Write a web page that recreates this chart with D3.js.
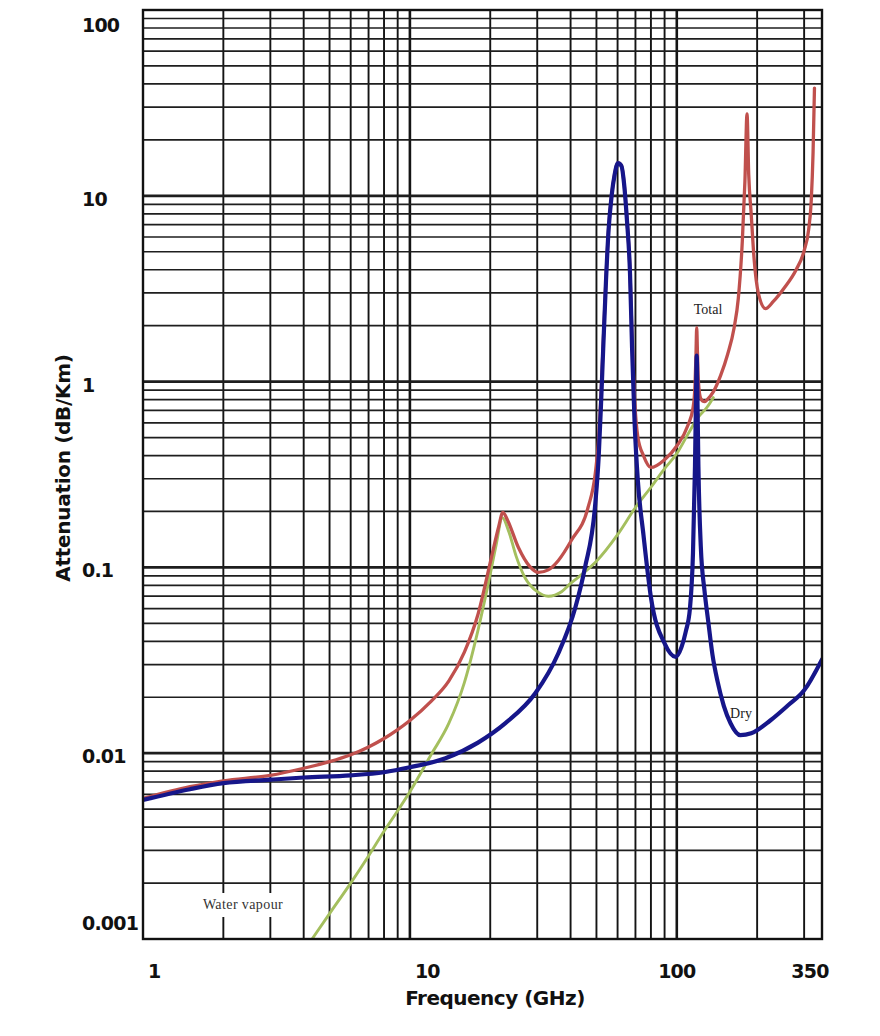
<!DOCTYPE html>
<html><head><meta charset="utf-8">
<script src="https://cdn.jsdelivr.net/npm/d3@7"></script>
<style>body{margin:0;background:#fff}svg{display:block}</style>
</head><body><svg id="chart" width="880" height="1036"></svg>
<script>
// ---------- data ----------
const xTickValues = [1, 10, 100, 350];
const xTickLabels = ["1", "10", "100", "350"];
const yTickValues = [0.001, 0.01, 0.1, 1, 10, 100];
const yTickLabels = ["0.001", "0.01", "0.1", "1", "10", "100"];

const totalFreq = [1,1.5,2,3,4,5,6,7,8,9,10,12,14,16,18,20.2,21.5,22.3,23.2,25.5,28,30.3,33,36,40.3,46.5,49.5,51,52,53,54.3,55.5,57,58.5,60.2,62,63.5,65,66.8,68,69.5,71.5,75,80,90,100,110,115,117,118,118.75,119.5,120.5,123,127,130,137,146,155,164,170,176,180,183.3,186,190,195,202,215,230,253,280,300,312,319,324,328];
const totalAtt  = [0.0057,0.0066,0.0071,0.0076,0.0083,0.009,0.0098,0.0108,0.012,0.0134,0.015,0.019,0.0245,0.035,0.056,0.113,0.165,0.198,0.18,0.128,0.102,0.094,0.097,0.109,0.14,0.21,0.32,0.5,0.85,1.6,3.6,6.6,10.1,13.1,15.1,14.6,11.6,7.6,3.9,1.7,0.8,0.5,0.4,0.345,0.38,0.45,0.58,0.72,0.95,1.4,1.95,1.45,1.0,0.81,0.78,0.8,0.88,1.08,1.4,1.95,2.8,5.7,12,27.6,13,8,4.5,3.0,2.47,2.7,3.2,4.0,5.06,6.6,9.4,17,38];

const dryFreq = [1,1.5,2,3,4,6,8,10,13.6,18,22.8,29.5,36,41.7,45.3,49.5,51,52,53,54.3,55.5,57,58.5,60.2,62,63.5,65,66.8,68,69.5,71.5,75,80,90,99,104,108,112,115,117,118,118.75,119.5,120.5,123,127,131,136,142,150,159,173,190,224,260,300,350];
const dryAtt  = [0.0056,0.0064,0.0069,0.0072,0.0074,0.0076,0.0079,0.0084,0.0094,0.0114,0.0145,0.021,0.0345,0.061,0.1,0.22,0.4,0.75,1.5,3.5,6.5,10,13,15,14.5,11.5,7.5,3.8,1.5,0.6,0.29,0.15,0.069,0.039,0.033,0.037,0.045,0.06,0.12,0.35,0.8,1.38,0.8,0.35,0.13,0.075,0.052,0.034,0.0245,0.018,0.0145,0.0125,0.0128,0.015,0.018,0.0218,0.032];

const vapourFreq = [4,4.3,5,6,7,8,9,10,12,14,16,18,20,21,22.2,23.5,25,27,30,33,37,40,45,50,60,70,80,90,100,110,120,130,137];
const vapourAtt  = [0.00086,0.001,0.00137,0.002,0.0028,0.0038,0.0049,0.0062,0.0098,0.0145,0.024,0.046,0.092,0.13,0.185,0.155,0.115,0.088,0.074,0.07,0.074,0.082,0.094,0.108,0.15,0.21,0.27,0.34,0.41,0.52,0.64,0.73,0.82];

// ---------- layout ----------
const L = 143, R = 822, T = 10, B = 939;
const svg = d3.select("#chart");
svg.append("rect").attr("width",880).attr("height",1036).attr("fill","#fff");

const x = d3.scaleLog().domain([1, 350]).range([L, R]);
const y = d3.scaleLog().domain([0.001, 100]).range([B, T]);

const isDecade = v => Math.abs(Math.log10(v) - Math.round(Math.log10(v))) < 1e-9;

// grid
const grid = svg.append("g");
grid.selectAll("line.v").data(x.ticks().filter(v => v > 1 && v < 350)).join("line")
  .attr("x1", d => x(d)).attr("x2", d => x(d)).attr("y1", T).attr("y2", B)
  .attr("stroke", "#141414").attr("stroke-width", d => isDecade(d) ? 2.6 : 1.9);
grid.selectAll("line.h").data(y.ticks().filter(v => v > 0.001 && v < 100)).join("line")
  .attr("x1", L).attr("x2", R).attr("y1", d => y(d)).attr("y2", d => y(d))
  .attr("stroke", "#1e1e1e").attr("stroke-width", d => isDecade(d) ? 2.8 : 1.7);

// label background (water vapour)
const wv = svg.append("g");
wv.append("rect").attr("x", 196).attr("y", 893).attr("width", 96).attr("height", 24).attr("fill", "#fff");
wv.append("text").attr("x", 243).attr("y", 909).attr("text-anchor", "middle")
  .attr("font-family", "Liberation Serif, serif").attr("font-size", 14).attr("letter-spacing", 0.4)
  .attr("fill", "#333").text("Water vapour");

// curves
svg.append("clipPath").attr("id", "clip").append("rect")
  .attr("x", L).attr("y", T).attr("width", R - L).attr("height", B - T);
const line = d3.line().x(d => x(d[0])).y(d => y(d[1])).curve(d3.curveMonotoneX);
const curves = svg.append("g").attr("clip-path", "url(#clip)");
const series = [
  {f: vapourFreq, v: vapourAtt, color: "#a4bf5e", w: 2.9},
  {f: totalFreq,  v: totalAtt,  color: "#c0504d", w: 3.3},
  {f: dryFreq,    v: dryAtt,    color: "#16168a", w: 4.2}
];
series.forEach(s => {
  curves.append("path").datum(s.f.map((f, i) => [f, s.v[i]]))
    .attr("d", line).attr("fill", "none").attr("stroke", s.color)
    .attr("stroke-width", s.w).attr("stroke-linejoin", "round").attr("stroke-linecap", "round");
});

// frame
svg.append("rect").attr("x", L).attr("y", T).attr("width", R - L).attr("height", B - T)
  .attr("fill", "none").attr("stroke", "#111").attr("stroke-width", 2.4);

// curve labels
svg.append("text").attr("x", 708).attr("y", 314).attr("text-anchor", "middle")
  .attr("font-family", "Liberation Serif, serif").attr("font-size", 14).attr("fill", "#222").text("Total");
svg.append("text").attr("x", 741).attr("y", 718).attr("text-anchor", "middle")
  .attr("font-family", "Liberation Serif, serif").attr("font-size", 14).attr("fill", "#222").text("Dry");

// tick labels
const tickFont = "DejaVu Sans, sans-serif";
svg.append("g").selectAll("text").data(yTickValues).join("text")
  .attr("x", 82).attr("y", d => Math.min(930, Math.max(32, y(d) + 10)))
  .attr("font-family", tickFont).attr("font-weight", "bold").attr("font-size", 19)
  .attr("letter-spacing", -0.8).attr("fill", "#111")
  .text((d, i) => yTickLabels[i]);
svg.append("g").selectAll("text").data(xTickValues).join("text")
  .attr("x", (d, i) => i < 2 ? x(d) + 5 : Math.min(x(d), R - 12))
  .attr("text-anchor", (d, i) => i < 2 ? "start" : "middle")
  .attr("y", 978)
  .attr("font-family", tickFont).attr("font-weight", "bold").attr("font-size", 19)
  .attr("letter-spacing", -0.8).attr("fill", "#111")
  .text((d, i) => xTickLabels[i]);

// axis titles
svg.append("text").attr("x", 495).attr("y", 1005).attr("text-anchor", "middle")
  .attr("font-family", tickFont).attr("font-weight", "bold").attr("font-size", 20)
  .attr("letter-spacing", -0.5).attr("fill", "#111").text("Frequency (GHz)");
svg.append("text").attr("transform", "translate(70,468) rotate(-90)").attr("text-anchor", "middle")
  .attr("font-family", tickFont).attr("font-weight", "bold").attr("font-size", 20)
  .attr("letter-spacing", -0.3).attr("fill", "#111").text("Attenuation  (dB/Km)");
</script>
</body></html>
